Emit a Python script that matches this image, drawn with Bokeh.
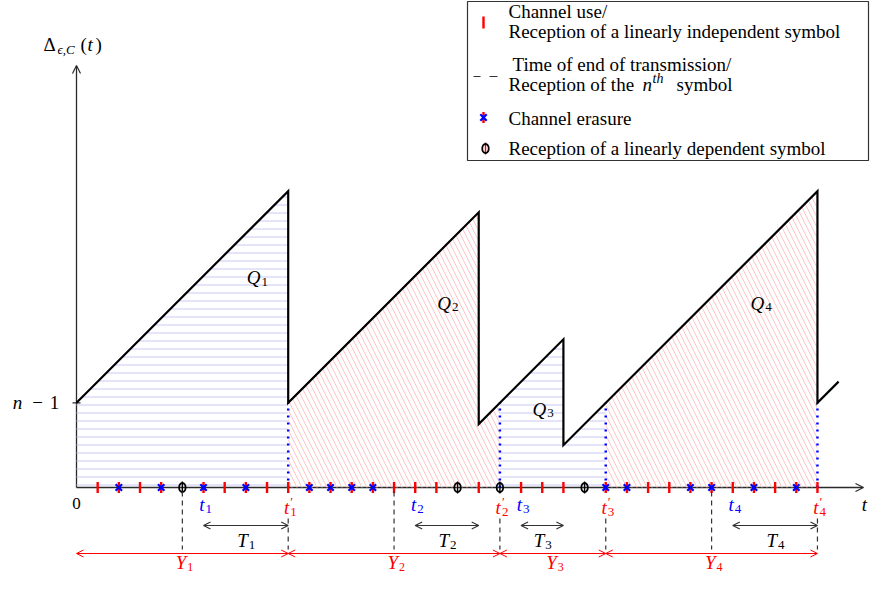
import numpy as np
from bokeh.plotting import figure
from bokeh.models import Range1d, Label, Arrow, OpenHead
from bokeh.embed import file_html
from bokeh.resources import INLINE

# ---------------- data ----------------
# slot types for t = 1..35: u = channel use (lin. independent), e = erasure, d = lin. dependent
slot_type = ["u", "e", "u", "e", "d", "e", "u", "e", "u", "u",
             "e", "e", "e", "e", "u", "u", "u", "d", "u", "d",
             "u", "u", "u", "d", "e", "e", "u", "u", "e", "e",
             "u", "e", "u", "e", "u"]
curve_t = [0, 10, 10, 19, 19, 23, 23, 35, 35, 36]
curve_v = [4, 14, 4, 13, 3, 7, 2, 14, 4, 5]
n_minus_1 = 4
t_start = [6, 16, 21, 31]          # t_i
t_end = [10, 20, 25, 35]           # t'_i
T_end = [10, 19, 23, 35]           # end of T_i intervals
nth_times = [5, 15, 30]            # long dashed markers
y_bounds = [0, 10, 20, 25, 35]     # Y_i intervals
q_pos_t = [8.5, 17.5, 22.0, 32.3]
q_pos_v = [9.9, 8.7, 3.7, 8.7]
period_style = ["blue", "red", "blue", "red"]

# ---------------- layout helpers ----------------
U = 21.17
W, H = 870, 573
FONT = "Liberation Serif"
RED = "#ff0000"
BLUE = "#0000ff"
AX = "#2a2a2a"


def X(px):
    return (px - 76) / U


def Y(py):
    return (487 - py) / U


p = figure(width=W, height=H, x_range=Range1d(X(0), X(W)), y_range=Range1d(Y(H), Y(0)),
           output_backend="svg", toolbar_location=None, x_axis_location=None, y_axis_location=None,
           min_border=0, outline_line_color=None)
p.grid.visible = False
p.background_fill_color = "white"


def lab(x, y, text, size=19, color="black", italic=False, align="left"):
    p.add_layout(Label(x=x, y=y, text=text, text_font=FONT, text_font_size=f"{size}px",
                       text_color=color, text_font_style="italic" if italic else "normal",
                       text_align=align, text_baseline="middle"))


def sym(x, y, main, sub=None, prime=False, color="black", size=19, ssize=13):
    lab(x, y, main, size, color, True, "right")
    if prime:
        lab(x + 1 / U, y + 6 / U, "\u2032", ssize, color, False, "left")
    if sub is not None:
        lab(x + 1 / U, y - 4 / U, sub, ssize, color, False, "left")


def clip_curve(a, b):
    xs, ys = [], []
    for i in range(len(curve_t) - 1):
        t0, t1 = curve_t[i], curve_t[i + 1]
        v0, v1 = curve_v[i], curve_v[i + 1]
        if t1 <= t0:
            continue
        lo, hi = max(a, t0), min(b, t1)
        if lo >= hi:
            continue
        for tt in (lo, hi):
            vv = v0 + (v1 - v0) * (tt - t0) / (t1 - t0)
            if not (xs and xs[-1] == tt and ys[-1] == vv):
                xs.append(tt)
                ys.append(vv)
    return [a] + xs + [b], [0] + ys + [0]


# ---------------- hatched areas ----------------
for k in range(4):
    xs, ys = clip_curve(y_bounds[k], y_bounds[k + 1])
    if period_style[k] == "blue":
        p.patch(xs, ys, fill_color=None, line_color=None, hatch_pattern="horizontal_line",
                hatch_color="#c8c8f6", hatch_scale=8, hatch_weight=1)
    else:
        p.patch(xs, ys, fill_color=None, line_color=None, hatch_pattern="left_diagonal_line",
                hatch_color="#ffc4c4", hatch_scale=10, hatch_weight=1)

# blue dotted verticals
p.segment(x0=t_end, y0=[0] * 4, x1=t_end, y1=[n_minus_1] * 4, line_color=BLUE,
          line_width=2.5, line_dash="2 5")

# ---------------- axes ----------------
p.add_layout(Arrow(end=OpenHead(size=8, line_color=AX, line_width=1.2), x_start=0, y_start=0,
                   x_end=X(863), y_end=0, line_color=AX, line_width=1.3, level="underlay"))
p.add_layout(Arrow(end=OpenHead(size=8, line_color=AX, line_width=1.2), x_start=0, y_start=0,
                   x_end=0, y_end=Y(65), line_color=AX, line_width=1.3, level="underlay"))
p.segment(x0=[X(72)], y0=[n_minus_1], x1=[X(80)], y1=[n_minus_1], line_color=AX, line_width=1.2)

lab(X(17), n_minus_1, "n", 19, "black", True, "center")
lab(X(37), n_minus_1, "\u2212", 19, "black", False, "center")
lab(X(54), n_minus_1, "1", 19, "black", False, "center")
lab(0, Y(503), "0", 17, "black", False, "center")
lab(X(864), Y(504), "t", 19, "black", True, "center")
# y-axis title
lab(X(43), Y(44), "\u0394", 19, "black", False, "left")
lab(X(57), Y(49), "\u03f5,C", 13, "black", True, "left")
lab(X(80), Y(44), "(", 19, "black", False, "left")
lab(X(87), Y(44), "t", 19, "black", True, "left")
lab(X(95), Y(44), ")", 19, "black", False, "left")

# ---------------- slot marks ----------------
slots = np.arange(1, len(slot_type) + 1)
tick_t = [t for t, s in zip(slots, slot_type) if s in ("u", "e")]
era_t = [t for t, s in zip(slots, slot_type) if s == "e"]
dep_t = [t for t, s in zip(slots, slot_type) if s == "d"]
hl = 5.5 / U
p.segment(x0=tick_t, y0=[-hl] * len(tick_t), x1=tick_t, y1=[hl] * len(tick_t),
          line_color=RED, line_width=2.4)
p.scatter(x=era_t, y=[0] * len(era_t), marker="x", size=9, line_color=BLUE, line_width=2.2)
p.segment(x0=dep_t, y0=[-6 / U] * len(dep_t), x1=dep_t, y1=[6 / U] * len(dep_t),
          line_color="black", line_width=1.4)
p.ellipse(x=dep_t, y=[0] * len(dep_t), width=6.5, height=9, width_units="screen",
          height_units="screen", line_color="black", line_width=1.8, fill_color=None)

# ---------------- age curve ----------------
p.line(curve_t, curve_v, line_color="black", line_width=2.2, line_join="miter")

for k in range(4):
    sym(q_pos_t[k] + 4 / U, q_pos_v[k], "Q", str(k + 1))

# ---------------- bottom annotations ----------------
p.segment(x0=nth_times, y0=[Y(491)] * 3, x1=nth_times, y1=[Y(549)] * 3, line_color="#333333",
          line_width=1.2, line_dash="5 4")
p.segment(x0=t_end, y0=[Y(518)] * 4, x1=t_end, y1=[Y(549)] * 4, line_color="#333333",
          line_width=1.2, line_dash="5 4")

for k in range(4):
    sym(t_start[k] + 1 / U, Y(504), "t", str(k + 1), color=BLUE)
    sym(t_end[k] + 1 / U, Y(507), "t", str(k + 1), prime=True, color=RED)
    p.add_layout(Arrow(start=OpenHead(size=7, line_color="#333333", line_width=1.2),
                       end=OpenHead(size=7, line_color="#333333", line_width=1.2),
                       x_start=t_start[k], y_start=Y(525), x_end=T_end[k], y_end=Y(525),
                       line_color="#333333", line_width=1.2))
    sym((t_start[k] + T_end[k]) / 2 + 2 / U, Y(540), "T", str(k + 1))
    p.add_layout(Arrow(start=OpenHead(size=7, line_color=RED, line_width=1),
                       end=OpenHead(size=7, line_color=RED, line_width=1),
                       x_start=y_bounds[k], y_start=Y(553), x_end=y_bounds[k + 1], y_end=Y(553),
                       line_color=RED, line_width=1))
    sym((y_bounds[k] + y_bounds[k + 1]) / 2 + 4 / U, Y(562), "Y", str(k + 1), color=RED,
        ssize=12)

# ---------------- legend ----------------
p.quad(left=[X(467)], right=[X(868)], top=[Y(1)], bottom=[Y(160)], fill_color="white",
       line_color="#333333", line_width=1.2)
p.segment(x0=[X(483)], y0=[Y(16)], x1=[X(483)], y1=[Y(28)], line_color=RED, line_width=2.4)
lab(X(508), Y(11), "Channel use/")
lab(X(508), Y(31), "Reception of a linearly independent symbol")
p.segment(x0=[X(473), X(489)], y0=[Y(76)] * 2, x1=[X(480), X(497)], y1=[Y(76)] * 2,
          line_color="#333333", line_width=1.2)
lab(X(512), Y(64), "Time of end of transmission/")
lab(X(508), Y(84), "Reception of the")
lab(X(642), Y(84), "n", 19, "black", True)
lab(X(652), Y(78), "th", 14, "black", True)
lab(X(676), Y(84), "symbol")
p.segment(x0=[X(483)], y0=[Y(117) - hl], x1=[X(483)], y1=[Y(117) + hl], line_color=RED,
          line_width=2.4)
p.scatter(x=[X(483)], y=[Y(117)], marker="x", size=9, line_color=BLUE, line_width=2.2)
lab(X(508), Y(118), "Channel erasure")
p.segment(x0=[X(485)], y0=[Y(148) - 6 / U], x1=[X(485)], y1=[Y(148) + 6 / U],
          line_color=RED, line_width=1.4)
p.ellipse(x=[X(485)], y=[Y(148)], width=6.5, height=9, width_units="screen",
          height_units="screen", line_color="black", line_width=1.8, fill_color=None)
lab(X(508), Y(148), "Reception of a linearly dependent symbol")

open("out.html", "w").write(file_html(p, INLINE))
